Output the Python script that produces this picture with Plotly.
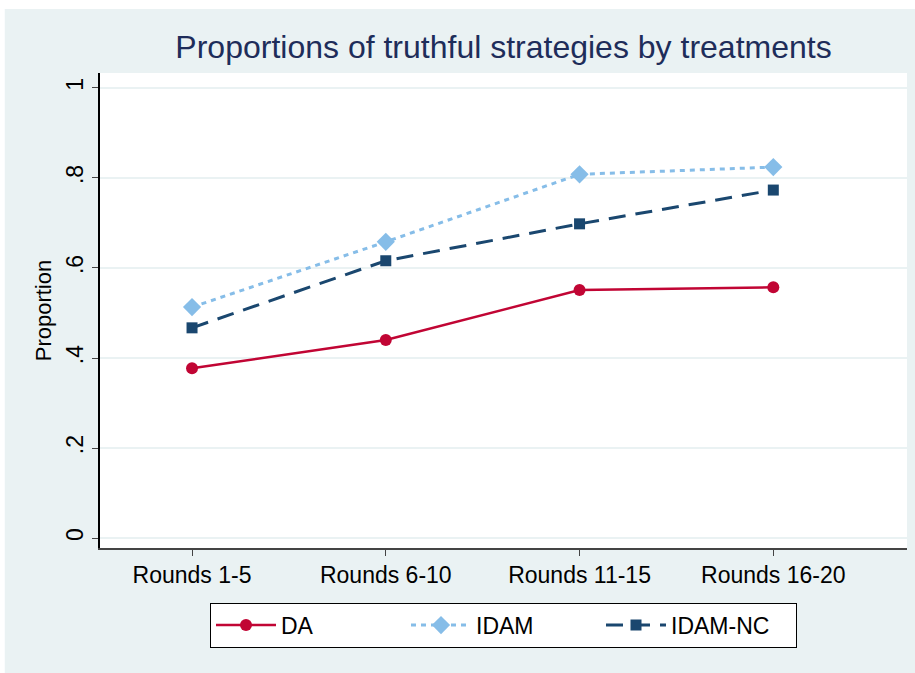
import plotly.graph_objects as go

# -----------------------------------------------------
# Data
# -----------------------------------------------------
rounds = ["Rounds 1-5", "Rounds 6-10", "Rounds 11-15", "Rounds 16-20"]
da = [0.377, 0.440, 0.551, 0.557]
idam = [0.513, 0.658, 0.808, 0.824]
idam_nc = [0.467, 0.616, 0.698, 0.773]

y_ticks = [0, 0.2, 0.4, 0.6, 0.8, 1]
y_tick_text = ["0", ".2", ".4", ".6", ".8", "1"]

FONT = "Liberation Sans, Arial, sans-serif"
BG = "#EAF2F3"

fig = go.Figure()

fig.add_trace(go.Scatter(
    x=rounds, y=da, name="DA", mode="lines+markers",
    line=dict(color="#C10534", width=2.5),
    marker=dict(symbol="circle", size=12, color="#C10534")
))
fig.add_trace(go.Scatter(
    x=rounds, y=idam, name="IDAM", mode="lines+markers",
    line=dict(color="#86BDE8", width=3, dash="5px,5px"),
    marker=dict(symbol="diamond", size=14, color="#86BDE8")
))
fig.add_trace(go.Scatter(
    x=rounds, y=idam_nc, name="IDAM-NC", mode="lines+markers",
    line=dict(color="#1A476F", width=3, dash="17px,10px"),
    marker=dict(symbol="square", size=11, color="#1A476F")
))

# outer light frame, then white plot region on top of it
fig.add_shape(type="rect", xref="paper", yref="paper",
              x0=-0.118, x1=1.02, y0=-0.27, y1=1.135,
              fillcolor=BG, line=dict(width=0), layer="below")
fig.add_shape(type="rect", xref="paper", yref="paper",
              x0=0, x1=1, y0=0, y1=1,
              fillcolor="white", line=dict(width=0), layer="below")

fig.update_layout(
    width=915,
    height=673,
    paper_bgcolor="white",
    plot_bgcolor="white",
    margin=dict(l=100, r=8, t=73, b=125),
    font=dict(family=FONT, size=23, color="black"),
    title=dict(
        text="Proportions of truthful strategies by treatments",
        x=0.5, xref="paper", xanchor="center",
        y=0.93, yanchor="middle",
        font=dict(size=32, color="#1E2D5A")
    ),
    showlegend=True,
    legend=dict(
        orientation="h",
        x=0.5, xanchor="center",
        y=-0.115, yanchor="top",
        bgcolor="white",
        bordercolor="black",
        borderwidth=1,
        font=dict(size=23),
        entrywidth=120,
        itemwidth=60
    )
)

fig.update_xaxes(
    range=[-0.475, 3.69],
    showline=True, linecolor="#444444", linewidth=1.5,
    ticks="outside", ticklen=6, tickcolor="#444444",
    showgrid=False, zeroline=False,
    tickfont=dict(size=23)
)

fig.update_yaxes(
    range=[-0.022, 1.033],
    tickvals=y_ticks, ticktext=y_tick_text,
    tickangle=-90,
    showline=True, linecolor="black", linewidth=1.5,
    ticks="outside", ticklen=6, tickcolor="#444444",
    showgrid=True, gridcolor=BG, gridwidth=1.5,
    zeroline=False,
    tickfont=dict(size=23),
    title=dict(text="Proportion", font=dict(size=22), standoff=4)
)

fig.write_html(
    "out.html",
    config={"displayModeBar": False},
    post_script="document.body.style.margin='0';"
)
